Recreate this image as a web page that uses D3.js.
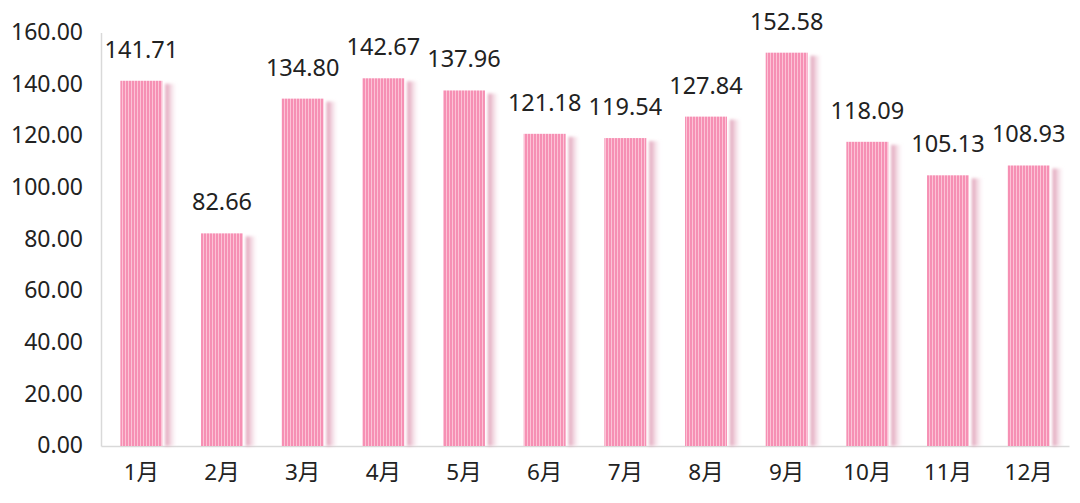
<!DOCTYPE html>
<html><head><meta charset="utf-8">
<script src="https://cdn.jsdelivr.net/npm/d3@7"></script>
<style>
html,body{margin:0;padding:0;background:#fff;}
svg text{font-family:"Noto Sans","Noto Sans CJK SC",sans-serif;fill:#222;}
</style></head>
<body><svg id="c" width="1080" height="503"></svg>
<script>
const categories = ["1月","2月","3月","4月","5月","6月","7月","8月","9月","10月","11月","12月"];
const values = [141.71,82.66,134.80,142.67,137.96,121.18,119.54,127.84,152.58,118.09,105.13,108.93];
const yTicks = [0,20,40,60,80,100,120,140,160];

const svg = d3.select("#c");
const margin = {left:101, right:11, top:32.5, bottom:57};
const W = 1080, H = 503;
const x = d3.scaleBand().domain(categories).range([margin.left, W - margin.right]).paddingInner(0.48).paddingOuter(0.24);
const y = d3.scaleLinear().domain([0,160]).range([H - margin.bottom, margin.top]);

const defs = svg.append("defs");
const pat = defs.append("pattern").attr("id","stripes").attr("patternUnits","userSpaceOnUse")
  .attr("width",3).attr("height",10);
pat.append("rect").attr("width",3).attr("height",10).attr("fill","#fcc3d6");
pat.append("rect").attr("width",2).attr("height",10).attr("fill","#f690b4");
const grad = defs.append("linearGradient").attr("id","shade").attr("x1",0).attr("x2",1).attr("y1",0).attr("y2",0);
grad.append("stop").attr("offset","0%").attr("stop-color","#dc97b0").attr("stop-opacity",1);
grad.append("stop").attr("offset","100%").attr("stop-color","#f4d3df").attr("stop-opacity",0);
const flt = defs.append("filter").attr("id","blur").attr("x","-50%").attr("y","-10%").attr("width","200%").attr("height","120%");
flt.append("feGaussianBlur").attr("stdDeviation",1.5);

// axes
const yAxis = d3.axisLeft(y).tickValues(yTicks).tickSize(0).tickPadding(18).tickFormat(d3.format(".2f"));
const gy = svg.append("g").attr("transform",`translate(${margin.left},0)`).call(yAxis);
gy.select(".domain").attr("stroke","#d9d9d9").attr("stroke-width",1.5);
gy.selectAll("text").attr("font-size",23).attr("dy","0.3em").attr("fill","#222");

const gx = svg.append("g").attr("transform",`translate(0,${H - margin.bottom})`)
  .call(d3.axisBottom(x).tickSize(0).tickPadding(18));
gx.select(".domain").attr("stroke","#d9d9d9").attr("stroke-width",1.5);
gx.selectAll("text").attr("font-size",22.5).attr("fill","#222");

// shadows
svg.append("g").selectAll("rect").data(values).join("rect")
  .attr("x",(d,i)=>x(categories[i]) + x.bandwidth() + 3)
  .attr("y",d=>y(d)+4)
  .attr("width",11)
  .attr("height",d=>y(0)-y(d)-4)
  .attr("fill","url(#shade)")
  .attr("filter","url(#blur)");

// bars
svg.append("g").selectAll("rect").data(values).join("rect")
  .attr("x",(d,i)=>x(categories[i]))
  .attr("y",d=>y(d)+1)
  .attr("width",x.bandwidth())
  .attr("height",d=>y(0)-y(d)-1)
  .attr("fill","url(#stripes)");

// labels
svg.append("g").selectAll("text").data(values).join("text")
  .attr("x",(d,i)=>x(categories[i]) + x.bandwidth()/2)
  .attr("y",d=>y(d)-22)
  .attr("text-anchor","middle")
  .attr("font-size",23.5)
  .text(d=>d3.format(".2f")(d));
</script></body></html>
